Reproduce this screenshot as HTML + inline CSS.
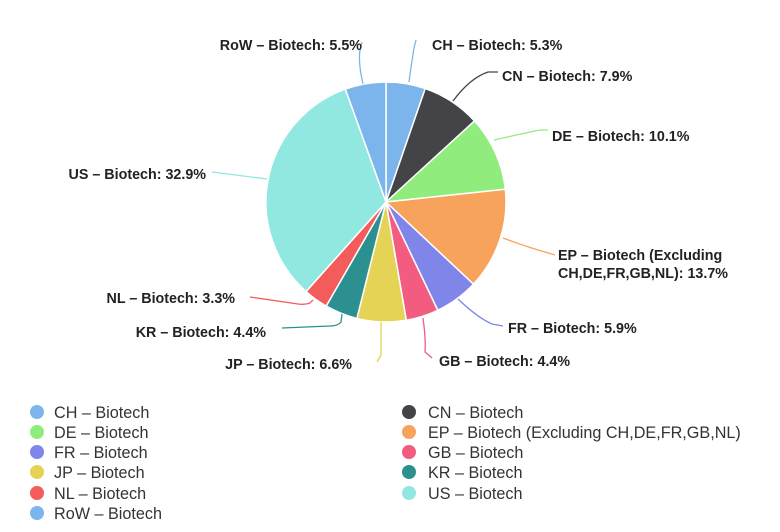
<!DOCTYPE html>
<html><head><meta charset="utf-8"><style>
body{margin:0;background:#fff;width:780px;height:532px;overflow:hidden;font-family:"Liberation Sans",sans-serif}
svg{position:absolute;left:0;top:0}
</style></head><body>
<svg width="780" height="532" id="s" xmlns="http://www.w3.org/2000/svg">
<g id="pie"></g>
<g fill="none" stroke-width="1.3">
<path d="M363 84 Q358 62 360 50 L362 42" stroke="#7cb5ec"/>
<path d="M409 82 Q412 60 414 48 L416 40" stroke="#7cb5ec"/>
<path d="M453 101 Q470 78 488 72 L498 72" stroke="#434348"/>
<path d="M494 140 Q525 133 540 130 L548 130" stroke="#90ed7d"/>
<path d="M503 238 Q530 248 545 252 L555 255" stroke="#f7a35c"/>
<path d="M458 299 Q478 318 492 324 L503 326" stroke="#8085e9"/>
<path d="M423 318 Q426 340 425 352 L432 358" stroke="#f15c80"/>
<path d="M381 322 L381 355 L377 362" stroke="#e4d354"/>
<path d="M342 314 L341 322 Q338 326 330 326 L282 328" stroke="#2b908f"/>
<path d="M313 300 L310 303 Q305 305 298 304 L250 297" stroke="#f45b5b"/>
<path d="M267 179 L220 173 L212 172" stroke="#91e8e1"/>
</g>
<g font-size="14.3" font-weight="bold" fill="#222">
<text x="362" y="50" text-anchor="end">RoW – Biotech: 5.5%</text>
<text x="432" y="50">CH – Biotech: 5.3%</text>
<text x="502" y="81">CN – Biotech: 7.9%</text>
<text x="552" y="141">DE – Biotech: 10.1%</text>
<text x="558" y="260">EP – Biotech (Excluding</text>
<text x="558" y="278">CH,DE,FR,GB,NL): 13.7%</text>
<text x="508" y="333">FR – Biotech: 5.9%</text>
<text x="439" y="366">GB – Biotech: 4.4%</text>
<text x="352" y="369" text-anchor="end">JP – Biotech: 6.6%</text>
<text x="266" y="337" text-anchor="end">KR – Biotech: 4.4%</text>
<text x="235" y="303" text-anchor="end">NL – Biotech: 3.3%</text>
<text x="206" y="179" text-anchor="end">US – Biotech: 32.9%</text>
</g>
<g font-size="16.2" fill="#333">
<circle cx="37" cy="412" r="7" fill="#7cb5ec"/><text x="54" y="418">CH – Biotech</text>
<circle cx="37" cy="432" r="7" fill="#90ed7d"/><text x="54" y="438">DE – Biotech</text>
<circle cx="37" cy="452" r="7" fill="#8085e9"/><text x="54" y="458">FR – Biotech</text>
<circle cx="37" cy="472" r="7" fill="#e4d354"/><text x="54" y="478">JP – Biotech</text>
<circle cx="37" cy="493" r="7" fill="#f45b5b"/><text x="54" y="499">NL – Biotech</text>
<circle cx="37" cy="513" r="7" fill="#7cb5ec"/><text x="54" y="519">RoW – Biotech</text>
<circle cx="409" cy="412" r="7" fill="#434348"/><text x="428" y="418">CN – Biotech</text>
<circle cx="409" cy="432" r="7" fill="#f7a35c"/><text x="428" y="438">EP – Biotech (Excluding CH,DE,FR,GB,NL)</text>
<circle cx="409" cy="452" r="7" fill="#f15c80"/><text x="428" y="458">GB – Biotech</text>
<circle cx="409" cy="472" r="7" fill="#2b908f"/><text x="428" y="478">KR – Biotech</text>
<circle cx="409" cy="493" r="7" fill="#91e8e1"/><text x="428" y="499">US – Biotech</text>
</g>
</svg>
<script>
var d=[[5.3,"#7cb5ec"],[7.9,"#434348"],[10.1,"#90ed7d"],[13.7,"#f7a35c"],[5.9,"#8085e9"],[4.4,"#f15c80"],[6.6,"#e4d354"],[4.4,"#2b908f"],[3.3,"#f45b5b"],[32.9,"#91e8e1"],[5.5,"#7cb5ec"]];
var cx=386,cy=202,r=120,a=-Math.PI/2,g=document.getElementById("pie"),h="";
d.forEach(function(s){var b=a+s[0]/100*2*Math.PI;
var x1=cx+r*Math.cos(a),y1=cy+r*Math.sin(a),x2=cx+r*Math.cos(b),y2=cy+r*Math.sin(b);
h+='<path d="M'+cx+' '+cy+'L'+x1.toFixed(2)+' '+y1.toFixed(2)+'A'+r+' '+r+' 0 '+(b-a>Math.PI?1:0)+' 1 '+x2.toFixed(2)+' '+y2.toFixed(2)+'Z" fill="'+s[1]+'" stroke="#fff" stroke-width="1.5" stroke-linejoin="round"/>';a=b;});
g.innerHTML=h;
</script>
</body></html>
